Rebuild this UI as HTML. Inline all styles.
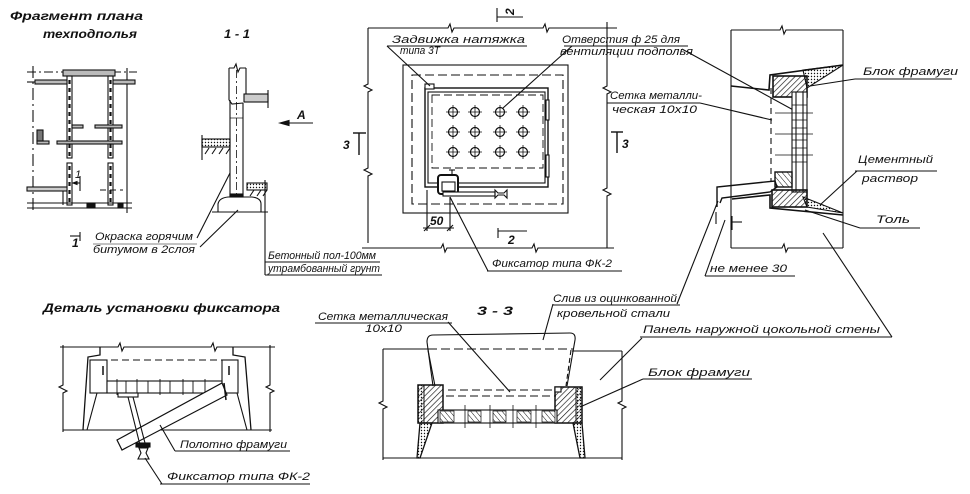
<!DOCTYPE html>
<html><head><meta charset="utf-8"><style>
html,body{margin:0;padding:0;background:#fff;}
svg{display:block}
text{font-family:"Liberation Sans","DejaVu Sans",sans-serif;font-style:italic;font-size:11px;fill:#111;stroke:none}
.b{font-weight:bold;font-size:12px}
</style></head><body>
<svg width="970" height="494" viewBox="0 0 970 494" xmlns="http://www.w3.org/2000/svg">
<defs>
<pattern id="wood" width="4" height="4" patternUnits="userSpaceOnUse" patternTransform="rotate(45)"><line x1="0" y1="0" x2="0" y2="4" stroke="#111" stroke-width="1.3"/></pattern>
<pattern id="wood2" width="4" height="4" patternUnits="userSpaceOnUse" patternTransform="rotate(-40)"><line x1="0" y1="0" x2="0" y2="4" stroke="#111" stroke-width="1"/></pattern>
<pattern id="dots" width="3" height="3" patternUnits="userSpaceOnUse"><circle cx="1.5" cy="1.5" r="0.7" fill="#111"/></pattern>
</defs>

<!-- ================= TEXT ================= -->
<text class="b" x="10" y="20" textLength="133" lengthAdjust="spacingAndGlyphs">Фрагмент плана</text>
<text class="b" x="43" y="38" textLength="94" lengthAdjust="spacingAndGlyphs">техподполья</text>
<text class="b" x="224" y="38" textLength="26" lengthAdjust="spacingAndGlyphs">1 - 1</text>
<text class="b" x="297" y="119">А</text>
<text x="95" y="240" textLength="98" lengthAdjust="spacingAndGlyphs">Окраска горячим</text>
<text x="93" y="253" textLength="102" lengthAdjust="spacingAndGlyphs">битумом в 2слоя</text>
<text x="268" y="259" textLength="108" lengthAdjust="spacingAndGlyphs">Бетонный пол-100мм</text>
<text x="268" y="272" textLength="112" lengthAdjust="spacingAndGlyphs">утрамбованный грунт</text>
<text x="75" y="178" font-size="10">1</text>
<text class="b" x="72" y="247" font-size="11">1</text>

<text x="392" y="43" textLength="133" lengthAdjust="spacingAndGlyphs">Задвижка натяжка</text>
<text x="400" y="54" textLength="40" lengthAdjust="spacingAndGlyphs">типа 3Т</text>
<text x="562" y="43" textLength="118" lengthAdjust="spacingAndGlyphs">Отверстия ф 25 для</text>
<text x="560" y="55" textLength="133" lengthAdjust="spacingAndGlyphs">вентиляции подполья</text>
<text x="610" y="99" textLength="92" lengthAdjust="spacingAndGlyphs">Сетка металли-</text>
<text x="612" y="113" textLength="85" lengthAdjust="spacingAndGlyphs">ческая 10х10</text>
<text x="863" y="75" textLength="95" lengthAdjust="spacingAndGlyphs">Блок фрамуги</text>
<text x="858" y="163" textLength="75" lengthAdjust="spacingAndGlyphs">Цементный</text>
<text x="862" y="182" textLength="56" lengthAdjust="spacingAndGlyphs">раствор</text>
<text x="876" y="223" textLength="34" lengthAdjust="spacingAndGlyphs">Толь</text>
<text x="710" y="272" textLength="77" lengthAdjust="spacingAndGlyphs">не менее 30</text>
<text x="492" y="267" textLength="120" lengthAdjust="spacingAndGlyphs">Фиксатор типа ФК-2</text>
<text class="b" x="430" y="225" font-size="11">50</text>
<text class="b" x="343" y="149">3</text>
<text class="b" x="622" y="148">3</text>
<text class="b" x="508" y="244" font-size="11">2</text>
<text class="b" x="507" y="14" font-size="9" transform="rotate(-90 511 11)">2</text>

<text class="b" x="43" y="312" textLength="237" lengthAdjust="spacingAndGlyphs">Деталь установки фиксатора</text>
<text class="b" x="477" y="315" textLength="36" lengthAdjust="spacingAndGlyphs">3 - 3</text>
<text x="318" y="320" textLength="130" lengthAdjust="spacingAndGlyphs">Сетка металлическая</text>
<text x="365" y="332" textLength="37" lengthAdjust="spacingAndGlyphs">10х10</text>
<text x="553" y="302" textLength="124" lengthAdjust="spacingAndGlyphs">Слив из оцинкованной</text>
<text x="557" y="317" textLength="113" lengthAdjust="spacingAndGlyphs">кровельной стали</text>
<text x="643" y="333" textLength="237" lengthAdjust="spacingAndGlyphs">Панель наружной цокольной стены</text>
<text x="648" y="376" textLength="102" lengthAdjust="spacingAndGlyphs">Блок фрамуги</text>
<text x="180" y="448" textLength="107" lengthAdjust="spacingAndGlyphs">Полотно фрамуги</text>
<text x="167" y="480" textLength="143" lengthAdjust="spacingAndGlyphs">Фиксатор типа ФК-2</text>

<g fill="none" stroke="#111" stroke-width="1.1">
<!-- ================= PLAN FRAGMENT ================= -->
<line x1="27" y1="72" x2="137" y2="72" stroke-dasharray="9 3 2 3"/>
<line x1="33" y1="66" x2="33" y2="212" stroke-dasharray="12 4 2 4"/>
<line x1="127" y1="68" x2="127" y2="213"/>
<rect x="63" y="70" width="52" height="6" fill="#bbb"/>
<rect x="67" y="76" width="5" height="82"/>
<rect x="67" y="163" width="5" height="42"/>
<rect x="108" y="76" width="5" height="82"/>
<rect x="108" y="163" width="5" height="42"/>
<line x1="69.5" y1="80" x2="69.5" y2="156" stroke-width="2.2" stroke-dasharray="4 4"/>
<line x1="69.5" y1="166" x2="69.5" y2="203" stroke-width="2.2" stroke-dasharray="4 4"/>
<line x1="110.5" y1="80" x2="110.5" y2="156" stroke-width="2.2" stroke-dasharray="4 4"/>
<line x1="110.5" y1="166" x2="110.5" y2="203" stroke-width="2.2" stroke-dasharray="4 4"/>
<rect x="35" y="80" width="32" height="4" fill="#bbb"/>
<rect x="113" y="80" width="22" height="4" fill="#bbb"/>
<line x1="27" y1="82" x2="35" y2="82"/>
<rect x="72" y="125" width="11" height="3" fill="#bbb"/>
<rect x="95" y="125" width="27" height="3" fill="#bbb"/>
<rect x="57" y="141" width="65" height="3" fill="#bbb"/>
<rect x="37" y="141" width="12" height="3" fill="#bbb"/>
<rect x="37" y="130" width="6" height="11" fill="#777"/>
<rect x="27" y="187" width="40" height="4" fill="#ccc"/>
<line x1="63" y1="191" x2="63" y2="205"/>
<line x1="27" y1="203" x2="132" y2="203"/>
<line x1="27" y1="208" x2="132" y2="208"/>
<rect x="87" y="203" width="8" height="5" fill="#111"/>
<rect x="118" y="203" width="5" height="5" fill="#111"/>
<line x1="100" y1="190" x2="123" y2="190" stroke-dasharray="6 4"/>
<line x1="80" y1="176" x2="80" y2="191"/>
<line x1="74" y1="183" x2="80" y2="183"/>
<path d="M73,183 L77,181.5 L77,184.5 Z" fill="#111"/>
<!-- section mark bottom -->
<line x1="80" y1="232" x2="80" y2="241"/>
<line x1="70" y1="236" x2="80" y2="236"/>

<!-- ================= SECTION 1-1 ================= -->
<path d="M229,68 L234,68 L236,64 L238,72 L240,68 L246,68"/>
<line x1="229" y1="68" x2="229" y2="100"/>
<line x1="246" y1="68" x2="246" y2="94"/>
<line x1="230" y1="100" x2="230" y2="197"/>
<line x1="243" y1="103" x2="243" y2="197"/>
<path d="M229,100 L232,104 L243,103"/>
<line x1="236.5" y1="70" x2="236.5" y2="195" stroke-dasharray="8 3 2 3" stroke-width="0.8"/>
<line x1="230" y1="118" x2="243" y2="118" stroke-width="0.7"/>
<rect x="244" y="94" width="24" height="8" fill="#ccc"/>
<line x1="268" y1="90" x2="268" y2="108"/>
<rect x="202" y="139" width="28" height="8" fill="url(#dots)"/>
<path d="M205,154 L209,148 M212,154 L216,148 M219,154 L223,148 M226,154 L230,148"/>
<line x1="202" y1="135" x2="202" y2="160"/>
<path d="M218,212 L218,204 Q219,198 228,197 L252,197 Q261,198 261,204 L261,212 Z"/>
<line x1="212" y1="212" x2="268" y2="212"/>
<rect x="230" y="194" width="13" height="3" fill="#111"/>
<rect x="247" y="183" width="20" height="7" fill="url(#dots)"/>
<path d="M250,196 L254,190 M257,196 L261,190 M263,196 L267,190"/>
<line x1="265" y1="180" x2="265" y2="275"/>
<line x1="265" y1="262" x2="380" y2="262"/>
<line x1="265" y1="275" x2="382" y2="275"/>
<!-- leaders Okraska -->
<line x1="197" y1="238" x2="230" y2="173"/>
<line x1="200" y1="247" x2="238" y2="210"/>
<line x1="93" y1="244" x2="197" y2="244" stroke-width="0.6"/>
<!-- arrow A -->
<line x1="282" y1="123" x2="313" y2="123"/>
<path d="M280,123 L289,120.5 L289,125.5 Z" fill="#111"/>

<!-- ================= MIDDLE PLAN (vent window) ================= -->
<path d="M368,28 L448,28 L450,24 L452,32 L454,28 L543,28 L545,24 L547,32 L549,28 L617,28"/>
<path d="M368,28 L368,84 L364,86 L372,90 L368,92 L368,168 L364,170 L372,174 L368,176 L368,243"/>
<path d="M607,22 L607,86 L603,88 L611,92 L607,94 L607,188 L603,190 L611,194 L607,196 L607,248"/>
<path d="M362,248 L441,248 L443,244 L445,252 L447,248 L532,248 L534,244 L536,252 L538,248 L614,248"/>
<rect x="403" y="65" width="165" height="148"/>
<rect x="412" y="75" width="151" height="129" stroke-dasharray="9 4"/>
<rect x="425" y="88" width="123" height="99" stroke-width="1.4"/>
<rect x="428" y="92" width="117" height="91"/>
<rect x="432" y="95" width="111" height="73" stroke-dasharray="8 4" stroke-width="0.9"/>
<rect x="425" y="84" width="9" height="5" fill="#fff"/>
<rect x="546" y="100" width="3" height="20" fill="#fff"/>
<rect x="546" y="155" width="3" height="22" fill="#fff"/>
<g stroke-width="1.2">
<circle cx="453" cy="112" r="4.5"/><circle cx="475" cy="112" r="4.5"/><circle cx="500" cy="112" r="4.5"/><circle cx="523" cy="112" r="4.5"/>
<circle cx="453" cy="132" r="4.5"/><circle cx="475" cy="132" r="4.5"/><circle cx="500" cy="132" r="4.5"/><circle cx="523" cy="132" r="4.5"/>
<circle cx="453" cy="152" r="4.5"/><circle cx="475" cy="152" r="4.5"/><circle cx="500" cy="152" r="4.5"/><circle cx="523" cy="152" r="4.5"/>
</g>
<path stroke-width="0.8" d="M446,112 H460 M468,112 H482 M493,112 H507 M516,112 H530 M446,132 H460 M468,132 H482 M493,132 H507 M516,132 H530 M446,152 H460 M468,152 H482 M493,152 H507 M516,152 H530 M453,105 V119 M475,105 V119 M500,105 V119 M523,105 V119 M453,125 V139 M475,125 V139 M500,125 V139 M523,125 V139 M453,145 V159 M475,145 V159 M500,145 V159 M523,145 V159"/>
<!-- fixator -->
<line x1="452" y1="170" x2="452" y2="175"/>
<line x1="449" y1="170" x2="455" y2="170"/>
<rect x="438" y="175" width="20" height="19" rx="3" stroke-width="2" fill="#fff"/>
<rect x="442" y="182" width="13" height="9" fill="#fff"/>
<rect x="443" y="192" width="52" height="4" fill="#fff"/>
<path d="M495,190 L498,193 L504,193 L507,190 L507,198 L504,195 L498,195 L495,198 Z"/>
<!-- dimension 50 -->
<line x1="427" y1="190" x2="427" y2="231"/>
<line x1="450" y1="197" x2="450" y2="231"/>
<line x1="423" y1="228" x2="454" y2="228"/>
<path d="M424,231 L430,225 M447,231 L453,225"/>
<!-- section 2 marks -->
<line x1="498" y1="228" x2="498" y2="238"/>
<line x1="498" y1="231" x2="527" y2="231"/>
<line x1="497" y1="8" x2="497" y2="22"/>
<line x1="497" y1="17" x2="523" y2="17"/>
<!-- section 3 marks -->
<line x1="359" y1="133" x2="359" y2="155" stroke-width="1.4"/>
<line x1="353" y1="133" x2="366" y2="133" stroke-width="1.4"/>
<line x1="617" y1="132" x2="617" y2="153" stroke-width="1.4"/>
<line x1="611" y1="132" x2="623" y2="132" stroke-width="1.4"/>
<!-- leaders -->
<line x1="387" y1="46" x2="527" y2="46"/>
<line x1="387" y1="46" x2="430" y2="86"/>
<line x1="564" y1="46" x2="688" y2="46"/>
<line x1="572" y1="46" x2="503" y2="108"/>
<line x1="682" y1="49" x2="797" y2="112"/>
<line x1="607" y1="103" x2="700" y2="103"/>
<line x1="700" y1="103" x2="772" y2="120"/>
<line x1="487" y1="271" x2="622" y2="271"/>
<line x1="488" y1="271" x2="450" y2="197"/>

<!-- ================= WINDOW DETAIL (right top) ================= -->
<path d="M731,30 L780,30 L782,26 L784,34 L786,30 L843,30"/>
<line x1="731" y1="30" x2="731" y2="248"/>
<line x1="843" y1="30" x2="843" y2="248"/>
<path d="M731,248 L782,248 L784,244 L786,252 L788,248 L843,248"/>
<path d="M731,86 L769,90 L770,75 L843,65" stroke-width="1.6"/>
<polygon points="803,70 843,65 807,88" fill="url(#dots)"/>
<rect x="773" y="76" width="34" height="21" fill="url(#wood)" stroke-width="1.6"/>
<rect x="792" y="92" width="15" height="100" fill="#fff"/>
<line x1="796" y1="92" x2="796" y2="192"/>
<line x1="803" y1="92" x2="803" y2="192"/>
<path d="M792,105 H807 M792,120 H807 M792,128 H807 M792,140 H807 M792,148 H807 M792,162 H807" stroke-width="0.8"/>
<path d="M775,113 H813 M775,134 H813 M775,155 H813" stroke-width="0.8"/>
<line x1="771" y1="88" x2="771" y2="182" stroke-dasharray="6 4"/>
<rect x="775" y="172" width="17" height="15" fill="url(#wood2)" stroke-width="1.4"/>
<rect x="772" y="190" width="35" height="17" fill="url(#wood)" stroke-width="1.6"/>
<path d="M717,207 L717,187 L775,181 L777,187 L770,192 L722,198 L720,203" stroke-width="1.4"/>
<path d="M732,199 L770,195 L770,208 L843,215" stroke-width="1.6"/>
<polygon points="803,197 843,213 807,207" fill="url(#dots)"/>
<line x1="716" y1="212" x2="716" y2="224"/>
<line x1="732" y1="216" x2="732" y2="230"/>
<line x1="732" y1="222" x2="742" y2="222"/>
<!-- leaders -->
<line x1="855" y1="79" x2="952" y2="79"/>
<line x1="855" y1="79" x2="810" y2="86"/>
<line x1="855" y1="171" x2="937" y2="171"/>
<line x1="857" y1="171" x2="820" y2="205"/>
<line x1="860" y1="228" x2="920" y2="228"/>
<line x1="860" y1="228" x2="805" y2="210"/>
<line x1="705" y1="276" x2="795" y2="276"/>
<line x1="705" y1="276" x2="725" y2="220"/>
<line x1="677" y1="304" x2="718" y2="201"/>
<line x1="892" y1="337" x2="823" y2="233"/>

<!-- ================= DETAIL OF FIXATOR ================= -->
<path d="M60,347 L118,347 L120,343 L122,351 L124,347 L211,347 L213,343 L215,351 L217,347 L275,347"/>
<path d="M63,345 L63,385 L59,387 L67,391 L63,393 L63,432"/>
<path d="M270,345 L270,385 L266,387 L274,391 L270,393 L270,432"/>
<line x1="63" y1="430" x2="272" y2="430"/>
<path d="M100,347 L100,355 L88,357 L83,430" stroke-width="1.3"/>
<line x1="97" y1="393" x2="87" y2="430"/>
<path d="M233,347 L233,355 L245,357 L251,430" stroke-width="1.3"/>
<line x1="237" y1="393" x2="247" y2="430"/>
<rect x="90" y="360" width="17" height="33" fill="#fff"/>
<rect x="222" y="360" width="16" height="33" fill="#fff"/>
<path d="M103,366 V375 M229,366 V375" stroke-width="1.5"/>
<line x1="100" y1="360" x2="225" y2="360" stroke-dasharray="7 4"/>
<rect x="107" y="381" width="115" height="12" fill="#fff"/>
<path d="M117,379 V395 M126,381 V393 M137,379 V395 M148,381 V393 M160,379 V395 M170,381 V393 M183,379 V395 M193,381 V393 M205,379 V395" stroke-width="0.9"/>
<rect x="118" y="393" width="20" height="4" fill="#fff"/>
<polygon points="117,440 222,383 227,395 122,450" fill="#fff" stroke-width="1.2"/>
<line x1="224" y1="383" x2="226" y2="400" stroke-width="1.5"/>
<line x1="128" y1="397" x2="140" y2="445"/>
<line x1="133" y1="397" x2="145" y2="443"/>
<rect x="136" y="443" width="14" height="4" fill="#111"/>
<path d="M139,448 L148,448 L146,453 L149,459 L138,459 L141,453 Z"/>
<line x1="175" y1="451" x2="290" y2="451"/>
<line x1="175" y1="451" x2="160" y2="425"/>
<line x1="160" y1="484" x2="310" y2="484"/>
<line x1="162" y1="484" x2="145" y2="458"/>

<!-- ================= SECTION 3-3 ================= -->
<line x1="383" y1="349" x2="428" y2="349"/>
<line x1="572" y1="351" x2="622" y2="351"/>
<path d="M383,349 L383,401 L379,403 L387,407 L383,409 L383,460"/>
<path d="M622,351 L622,401 L618,403 L626,407 L622,409 L622,460"/>
<line x1="383" y1="458" x2="622" y2="458"/>
<path d="M427,342 Q427,335 433,335 L570,333 Q576,333 575,340 L567,386"/>
<line x1="427" y1="342" x2="433" y2="386"/>
<line x1="428" y1="350" x2="435" y2="386"/>
<line x1="571" y1="350" x2="566" y2="386" stroke-dasharray="5 3"/>
<line x1="428" y1="349" x2="573" y2="349" stroke-dasharray="9 4"/>
<line x1="448" y1="390" x2="558" y2="390" stroke-dasharray="8 4"/>
<line x1="446" y1="396" x2="556" y2="396" stroke-dasharray="8 4"/>
<rect x="418" y="385" width="25" height="38" fill="url(#wood)" stroke-width="1.5"/>
<rect x="418" y="385" width="6" height="38" fill="url(#dots)" stroke-width="1"/>
<rect x="555" y="387" width="27" height="36" fill="url(#wood)" stroke-width="1.5"/>
<rect x="576" y="387" width="6" height="36" fill="url(#dots)" stroke-width="1"/>
<rect x="555" y="387" width="6" height="5" fill="#fff"/>
<rect x="438" y="410" width="119" height="13" fill="#fff"/>
<rect x="440" y="411" width="14" height="11" fill="url(#wood2)" stroke-width="0.7"/>
<rect x="468" y="411" width="13" height="11" fill="url(#wood2)" stroke-width="0.7"/>
<rect x="493" y="411" width="13" height="11" fill="url(#wood2)" stroke-width="0.7"/>
<rect x="517" y="411" width="14" height="11" fill="url(#wood2)" stroke-width="0.7"/>
<rect x="542" y="411" width="13" height="11" fill="url(#wood2)" stroke-width="0.7"/>
<path d="M465,405 V428 M490,405 V428 M513,405 V428 M536,405 V428" stroke-width="0.8"/>
<polygon points="420,423 432,423 420,458 417,458" fill="url(#dots)" stroke-width="1.3"/>
<polygon points="573,423 582,423 585,458 580,458" fill="url(#dots)" stroke-width="1.3"/>
<!-- leaders -->
<line x1="315" y1="323" x2="452" y2="323"/>
<line x1="448" y1="322" x2="510" y2="392"/>
<line x1="553" y1="305" x2="680" y2="305"/>
<line x1="553" y1="304" x2="543" y2="340"/>
<line x1="640" y1="337" x2="892" y2="337"/>
<line x1="642" y1="338" x2="600" y2="380"/>
<line x1="643" y1="379" x2="752" y2="379"/>
<line x1="643" y1="379" x2="580" y2="407"/>
</g>
</svg>
</body></html>
